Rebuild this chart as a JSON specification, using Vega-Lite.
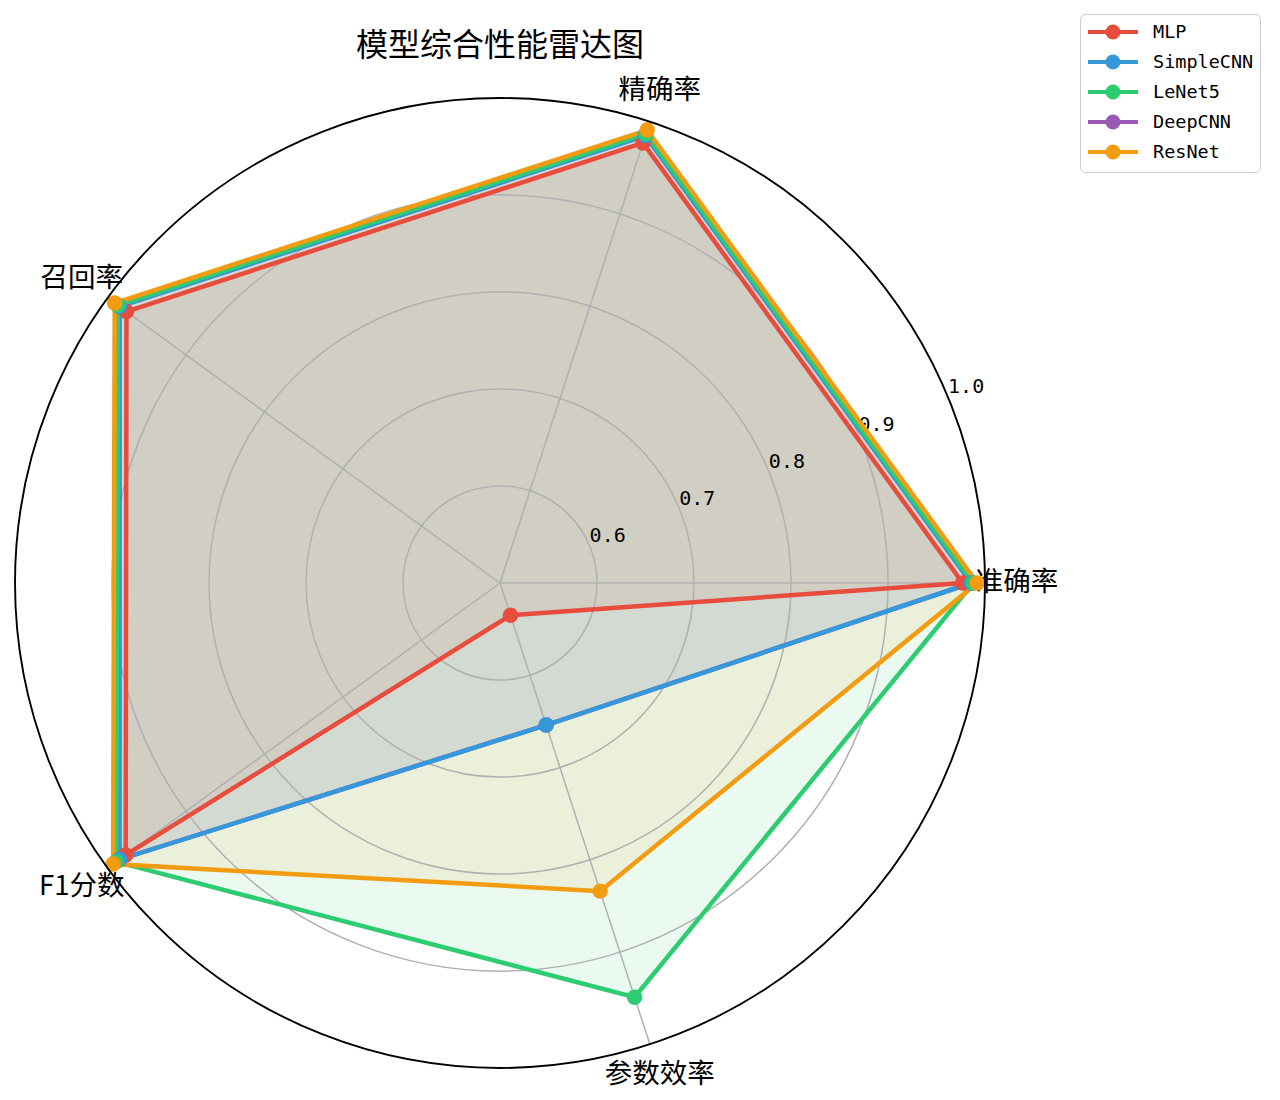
{
  "$schema": "https://vega.github.io/schema/vega-lite/v6.json",
  "description": "Radar chart of five models on five metrics",
  "width": 1280,
  "height": 1100,
  "autosize": {"type": "none"},
  "padding": 0,
  "background": "white",
  "title": {
    "text": "模型综合性能雷达图",
    "font": "Noto Sans CJK SC",
    "fontSize": 32,
    "fontWeight": "normal",
    "color": "black",
    "anchor": "middle",
    "frame": "group",
    "dx": -140,
    "dy": 33,
    "offset": -45,
    "baseline": "middle"
  },
  "datasets": {
    "scores": [
      {"model": "MLP", "metric": "准确率", "value": 0.977},
      {"model": "MLP", "metric": "精确率", "value": 0.977},
      {"model": "MLP", "metric": "召回率", "value": 0.976},
      {"model": "MLP", "metric": "F1分数", "value": 0.977},
      {"model": "MLP", "metric": "参数效率", "value": 0.535},
      {"model": "DeepCNN", "metric": "准确率", "value": 0.986},
      {"model": "DeepCNN", "metric": "精确率", "value": 0.985},
      {"model": "DeepCNN", "metric": "召回率", "value": 0.985},
      {"model": "DeepCNN", "metric": "F1分数", "value": 0.985},
      {"model": "DeepCNN", "metric": "参数效率", "value": 0.654},
      {"model": "SimpleCNN", "metric": "准确率", "value": 0.986},
      {"model": "SimpleCNN", "metric": "精确率", "value": 0.985},
      {"model": "SimpleCNN", "metric": "召回率", "value": 0.985},
      {"model": "SimpleCNN", "metric": "F1分数", "value": 0.985},
      {"model": "SimpleCNN", "metric": "参数效率", "value": 0.654},
      {"model": "LeNet5", "metric": "准确率", "value": 0.988},
      {"model": "LeNet5", "metric": "精确率", "value": 0.987},
      {"model": "LeNet5", "metric": "召回率", "value": 0.987},
      {"model": "LeNet5", "metric": "F1分数", "value": 0.989},
      {"model": "LeNet5", "metric": "参数效率", "value": 0.949},
      {"model": "ResNet", "metric": "准确率", "value": 0.992},
      {"model": "ResNet", "metric": "精确率", "value": 0.991},
      {"model": "ResNet", "metric": "召回率", "value": 0.991},
      {"model": "ResNet", "metric": "F1分数", "value": 0.993},
      {"model": "ResNet", "metric": "参数效率", "value": 0.834}
    ],
    "rings": [
      {"ring": 0.6},
      {"ring": 0.7},
      {"ring": 0.8},
      {"ring": 0.9},
      {"ring": 1.0}
    ],
    "metrics": [
      {"metric": "准确率"},
      {"metric": "精确率"},
      {"metric": "召回率"},
      {"metric": "F1分数"},
      {"metric": "参数效率"}
    ]
  },
  "layer": [
    {
      "data": {"name": "scores"},
      "transform": [
        {"calculate": "indexof(['准确率','精确率','召回率','F1分数','参数效率'], datum.metric)", "as": "idx"},
        {"calculate": "datum.idx * 2 * PI / 5", "as": "ang"},
        {"calculate": "(datum.value - 0.5) / 0.5", "as": "rn"},
        {"calculate": "datum.rn * cos(datum.ang)", "as": "px"},
        {"calculate": "datum.rn * sin(datum.ang)", "as": "py"}
      ],
      "mark": {"type": "line", "interpolate": "linear-closed", "fillOpacity": 0.1, "strokeOpacity": 0, "strokeWidth": 0},
      "encoding": {
        "x": {"field": "px", "type": "quantitative", "scale": {"domain": [-1.03093, 1.60825], "nice": false, "zero": false}, "axis": null},
        "y": {"field": "py", "type": "quantitative", "scale": {"domain": [-1.06598, 1.20206], "nice": false, "zero": false}, "axis": null},
        "order": {"field": "idx", "type": "quantitative"},
        "detail": {"field": "model", "type": "nominal"},
        "fill": {
          "field": "model",
          "type": "nominal",
          "scale": {"domain": ["ResNet", "DeepCNN", "LeNet5", "SimpleCNN", "MLP"], "range": ["#f39c12", "#9b59b6", "#2ecc71", "#3498db", "#e74c3c"]},
          "legend": null
        }
      }
    },
    {
      "data": {"name": "rings"},
      "transform": [
        {"filter": "datum.ring < 1"},
        {"calculate": "(datum.ring - 0.5) / 0.5", "as": "rn"},
        {"calculate": "0", "as": "c0"}
      ],
      "mark": {"type": "point", "shape": "circle", "filled": false, "opacity": 1, "stroke": "#b0b0b0", "strokeWidth": 1.5},
      "encoding": {
        "x": {"field": "c0", "type": "quantitative", "scale": {"domain": [-1.03093, 1.60825], "nice": false, "zero": false}, "axis": null},
        "y": {"field": "c0", "type": "quantitative", "scale": {"domain": [-1.06598, 1.20206], "nice": false, "zero": false}, "axis": null},
        "size": {"field": "rn", "type": "quantitative", "scale": {"type": "pow", "exponent": 2, "domain": [0, 1], "range": [0, 940900]}, "legend": null}
      }
    },
    {
      "data": {"name": "metrics"},
      "transform": [
        {"calculate": "indexof(['准确率','精确率','召回率','F1分数','参数效率'], datum.metric) * 2 * PI / 5", "as": "ang"},
        {"calculate": "cos(datum.ang)", "as": "ex"},
        {"calculate": "sin(datum.ang)", "as": "ey"},
        {"calculate": "0", "as": "c0"}
      ],
      "mark": {"type": "rule", "color": "#b0b0b0", "strokeWidth": 1.5},
      "encoding": {
        "x": {"field": "c0", "type": "quantitative", "scale": {"domain": [-1.03093, 1.60825], "nice": false, "zero": false}, "axis": null},
        "y": {"field": "c0", "type": "quantitative", "scale": {"domain": [-1.06598, 1.20206], "nice": false, "zero": false}, "axis": null},
        "x2": {"field": "ex"},
        "y2": {"field": "ey"}
      }
    },
    {
      "data": {"name": "rings"},
      "transform": [
        {"calculate": "(datum.ring - 0.5) / 0.5", "as": "rn"},
        {"calculate": "datum.rn * cos(PI / 8)", "as": "tx"},
        {"calculate": "datum.rn * sin(PI / 8)", "as": "ty"}
      ],
      "mark": {"type": "text", "align": "left", "baseline": "bottom", "font": "DejaVu Sans Mono", "fontSize": 20, "color": "black"},
      "encoding": {
        "x": {"field": "tx", "type": "quantitative", "scale": {"domain": [-1.03093, 1.60825], "nice": false, "zero": false}, "axis": null},
        "y": {"field": "ty", "type": "quantitative", "scale": {"domain": [-1.06598, 1.20206], "nice": false, "zero": false}, "axis": null},
        "text": {"field": "ring", "type": "quantitative", "format": ".1f"}
      }
    },
    {
      "data": {"name": "metrics"},
      "transform": [
        {"calculate": "indexof(['准确率','精确率','召回率','F1分数','参数效率'], datum.metric) * 2 * PI / 5", "as": "ang"},
        {"calculate": "1.066 * cos(datum.ang)", "as": "lx"},
        {"calculate": "1.066 * sin(datum.ang)", "as": "ly"}
      ],
      "mark": {"type": "text", "align": "center", "baseline": "middle", "font": "Noto Sans CJK SC", "fontSize": 27.5, "color": "black"},
      "encoding": {
        "x": {"field": "lx", "type": "quantitative", "scale": {"domain": [-1.03093, 1.60825], "nice": false, "zero": false}, "axis": null},
        "y": {"field": "ly", "type": "quantitative", "scale": {"domain": [-1.06598, 1.20206], "nice": false, "zero": false}, "axis": null},
        "text": {"field": "metric", "type": "nominal"}
      }
    },
    {
      "data": {"name": "scores"},
      "transform": [
        {"calculate": "indexof(['准确率','精确率','召回率','F1分数','参数效率'], datum.metric)", "as": "idx"},
        {"calculate": "datum.idx * 2 * PI / 5", "as": "ang"},
        {"calculate": "(datum.value - 0.5) / 0.5", "as": "rn"},
        {"calculate": "datum.rn * cos(datum.ang)", "as": "px"},
        {"calculate": "datum.rn * sin(datum.ang)", "as": "py"}
      ],
      "mark": {"type": "line", "interpolate": "linear-closed", "strokeWidth": 4.5, "opacity": 1},
      "encoding": {
        "x": {"field": "px", "type": "quantitative", "scale": {"domain": [-1.03093, 1.60825], "nice": false, "zero": false}, "axis": null},
        "y": {"field": "py", "type": "quantitative", "scale": {"domain": [-1.06598, 1.20206], "nice": false, "zero": false}, "axis": null},
        "order": {"field": "idx", "type": "quantitative"},
        "stroke": {
          "field": "model",
          "type": "nominal",
          "scale": {"domain": ["MLP", "SimpleCNN", "LeNet5", "DeepCNN", "ResNet"], "range": ["#e74c3c", "#3498db", "#2ecc71", "#9b59b6", "#f39c12"]},
          "legend": {
            "title": null,
            "orient": "none",
            "legendX": 1080,
            "legendY": 14,
            "symbolType": "M-1,0H4M0.95,0A0.55,0.55,0,1,1,2.05,0A0.55,0.55,0,1,1,0.95,0Z",
            "symbolSize": 400,
            "symbolStrokeWidth": 4,
            "symbolOpacity": 1,
            "labelFont": "DejaVu Sans Mono",
            "labelFontSize": 18.5,
            "labelColor": "black",
            "labelOffset": 43,
            "rowPadding": 2,
            "padding": 6,
            "strokeColor": "#cccccc",
            "fillColor": "white",
            "cornerRadius": 5
          }
        }
      }
    },
    {
      "data": {"name": "scores"},
      "transform": [
        {"calculate": "indexof(['准确率','精确率','召回率','F1分数','参数效率'], datum.metric)", "as": "idx"},
        {"calculate": "datum.idx * 2 * PI / 5", "as": "ang"},
        {"calculate": "(datum.value - 0.5) / 0.5", "as": "rn"},
        {"calculate": "datum.rn * cos(datum.ang)", "as": "px"},
        {"calculate": "datum.rn * sin(datum.ang)", "as": "py"}
      ],
      "mark": {"type": "point", "shape": "circle", "filled": true, "size": 240, "opacity": 1},
      "encoding": {
        "x": {"field": "px", "type": "quantitative", "scale": {"domain": [-1.03093, 1.60825], "nice": false, "zero": false}, "axis": null},
        "y": {"field": "py", "type": "quantitative", "scale": {"domain": [-1.06598, 1.20206], "nice": false, "zero": false}, "axis": null},
        "color": {
          "field": "model",
          "type": "nominal",
          "scale": {"domain": ["MLP", "SimpleCNN", "LeNet5", "DeepCNN", "ResNet"], "range": ["#e74c3c", "#3498db", "#2ecc71", "#9b59b6", "#f39c12"]},
          "legend": {
            "title": null,
            "orient": "none",
            "legendX": 1080,
            "legendY": 14,
            "symbolType": "M-1,0H4M0.95,0A0.55,0.55,0,1,1,2.05,0A0.55,0.55,0,1,1,0.95,0Z",
            "symbolSize": 400,
            "symbolStrokeWidth": 4,
            "symbolOpacity": 1,
            "labelFont": "DejaVu Sans Mono",
            "labelFontSize": 18.5,
            "labelColor": "black",
            "labelOffset": 43,
            "rowPadding": 2,
            "padding": 6,
            "strokeColor": "#cccccc",
            "fillColor": "white",
            "cornerRadius": 5
          }
        }
      }
    },
    {
      "data": {"name": "rings"},
      "transform": [
        {"filter": "datum.ring >= 1"},
        {"calculate": "(datum.ring - 0.5) / 0.5", "as": "rn"},
        {"calculate": "0", "as": "c0"}
      ],
      "mark": {"type": "point", "shape": "circle", "filled": false, "opacity": 1, "stroke": "black", "strokeWidth": 1.9},
      "encoding": {
        "x": {"field": "c0", "type": "quantitative", "scale": {"domain": [-1.03093, 1.60825], "nice": false, "zero": false}, "axis": null},
        "y": {"field": "c0", "type": "quantitative", "scale": {"domain": [-1.06598, 1.20206], "nice": false, "zero": false}, "axis": null},
        "size": {"field": "rn", "type": "quantitative", "scale": {"type": "pow", "exponent": 2, "domain": [0, 1], "range": [0, 940900]}, "legend": null}
      }
    }
  ],
  "config": {"view": {"stroke": null}}
}
